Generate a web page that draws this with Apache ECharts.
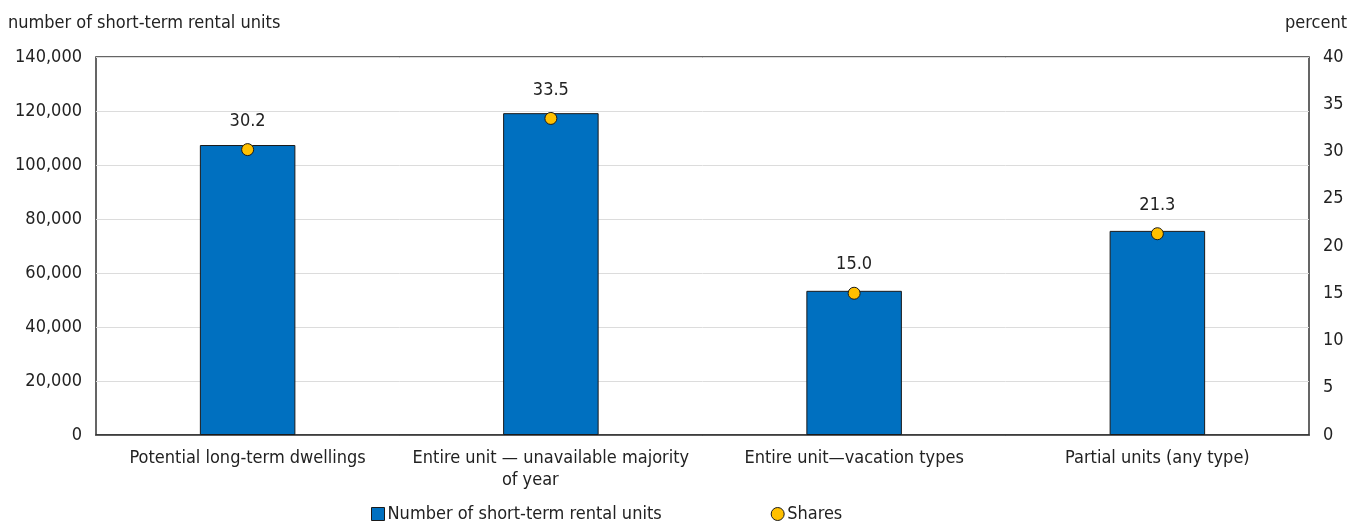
<!DOCTYPE html>
<html><head><meta charset="utf-8">
<script src="https://cdn.jsdelivr.net/npm/echarts@6/dist/echarts.min.js"></script>
<style>html,body{margin:0;padding:0;background:#fff}#c{width:1359px;height:523px}</style>
</head><body><div id="c"></div>
<script>
const categories = ["Potential long-term dwellings", "Entire unit \u2014 unavailable majority\nof year" + " ".repeat(8), "Entire unit\u2014vacation types", "Partial units (any type)"];
const unitCounts = [107400, 119200, 53400, 75600];
const shares = [30.2, 33.5, 15.0, 21.3];
const leftTicks = [0, 20000, 40000, 60000, 80000, 100000, 120000, 140000];
const rightTicks = [0, 5, 10, 15, 20, 25, 30, 35, 40];

const FONT = '"Liberation Sans Narrow", "DejaVu Sans Condensed", sans-serif';
const TXT = '#222';
const chart = echarts.init(document.getElementById('c'));
chart.setOption({
  animation: false,
  textStyle: { fontFamily: FONT },
  grid: { left: 96, right: 50, top: 57, bottom: 88, show: true, borderColor: '#333', borderWidth: 1.5, backgroundColor: 'transparent' },
  legend: {
    bottom: -5, left: 366, itemGap: 109, itemWidth: 13, itemHeight: 13,
    textStyle: { fontFamily: FONT, fontSize: 18, color: TXT, padding: [0, 0, 0, -2] },
    data: [
      { name: 'Number of short-term rental units', icon: 'rect', itemStyle: { color: '#0070C0', borderColor: '#1a1a1a', borderWidth: 1 } },
      { name: 'Shares', icon: 'circle', itemStyle: { color: '#FFC000', borderColor: '#1a1a1a', borderWidth: 1 } }
    ]
  },
  xAxis: {
    type: 'category', data: categories,
    axisLine: { lineStyle: { color: '#333', width: 1.5 } },
    axisTick: { show: false },
    axisLabel: { interval: 0, fontFamily: FONT, fontSize: 18, color: TXT, margin: 12, lineHeight: 22 }
  },
  yAxis: [
    {
      type: 'value', min: 0, max: 140000, interval: 20000,
      name: 'number of short-term rental units', nameLocation: 'end', nameGap: 25,
      nameTextStyle: { fontFamily: FONT, fontSize: 18, color: TXT, align: 'left', padding: [0, 0, 0, -88] },
      axisLine: { show: false }, axisTick: { show: false },
      axisLabel: { fontFamily: FONT, fontSize: 18, color: TXT, margin: 14, formatter: v => v.toLocaleString('en-US') },
      splitLine: { lineStyle: { color: '#dcdcdc', width: 1 } }
    },
    {
      type: 'value', min: 0, max: 40, interval: 5,
      name: 'percent', nameLocation: 'end', nameGap: 25,
      nameTextStyle: { fontFamily: FONT, fontSize: 18, color: TXT, align: 'right', padding: [0, -38, 0, 0] },
      axisLine: { show: false }, axisTick: { show: false },
      axisLabel: { fontFamily: FONT, fontSize: 18, color: TXT, margin: 14 },
      splitLine: { show: false }
    }
  ],
  series: [
    {
      name: 'Number of short-term rental units', type: 'bar', data: unitCounts, barWidth: '31.5%',
      itemStyle: { color: '#0070C0', borderColor: '#1a1a1a', borderWidth: 1 }
    },
    {
      name: 'Shares', type: 'scatter', yAxisIndex: 1, data: shares, symbolSize: 12,
      itemStyle: { color: '#FFC000', borderColor: '#1a1a1a', borderWidth: 1, opacity: 1 },
      label: { show: true, position: 'top', distance: 13, fontFamily: FONT, fontSize: 18, color: TXT, formatter: p => p.value.toFixed(1) },
      z: 5
    }
  ]
});
</script></body></html>
